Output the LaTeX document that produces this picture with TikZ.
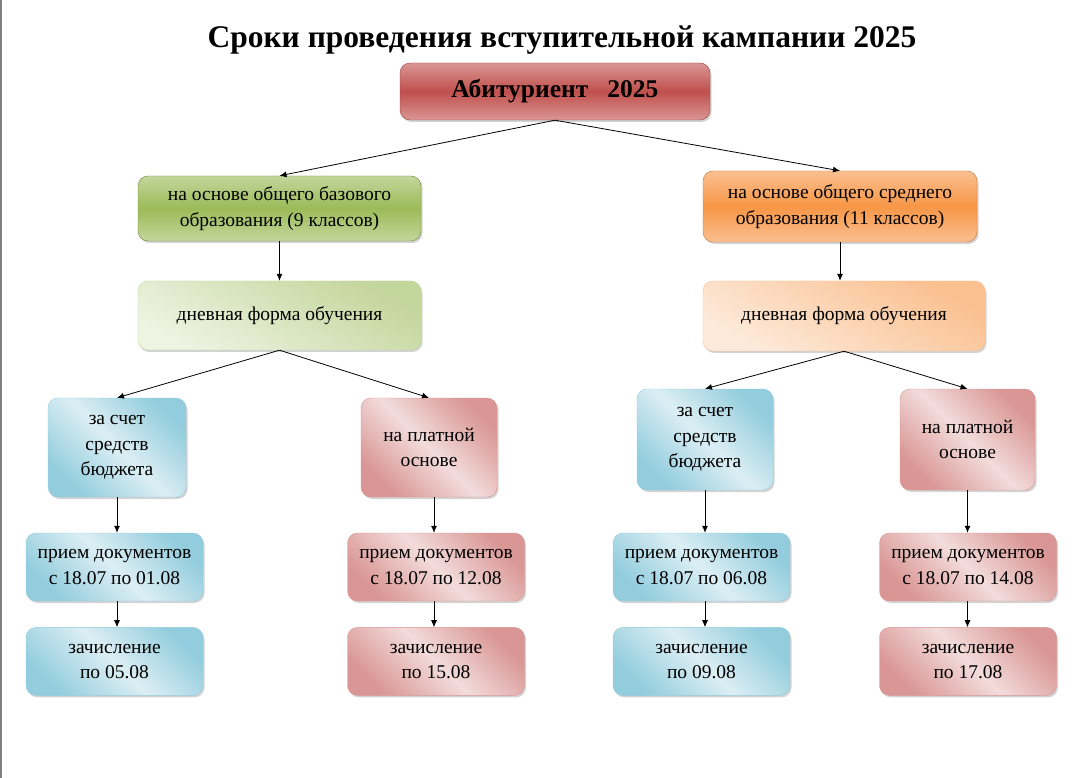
\documentclass[tikz,border=0pt]{standalone}
\usepackage{fontspec}
\setmainfont{Liberation Serif}
\usepackage{tikz}
\usetikzlibrary{positioning, arrows.meta, shadows}

\definecolor{redD}{HTML}{C0504D}
\definecolor{redL}{HTML}{DA9694}
\definecolor{grnD}{HTML}{9BBB59}
\definecolor{grnL}{HTML}{C3D69B}
\definecolor{grnW}{HTML}{EEF3E2}
\definecolor{orgD}{HTML}{F79646}
\definecolor{orgL}{HTML}{FAC090}
\definecolor{orgW}{HTML}{FDEADA}
\definecolor{bluD}{HTML}{93CDDD}
\definecolor{bluW}{HTML}{DCEEF4}
\definecolor{pnkD}{HTML}{D99694}
\definecolor{pnkW}{HTML}{F2DCDB}

\begin{document}
\begin{tikzpicture}
[
x=1pt, y=-1pt,
font=\fontsize{19.5}{25.5}\selectfont,
node distance = 26pt,
box/.style={rectangle, rounded corners=10pt, align=center, inner sep=1pt,
  drop shadow={shadow xshift=1.5pt, shadow yshift=-2pt, opacity=0.35, fill=gray}},
std1/.style={box, draw=redD!80!black, top color=redL, bottom color=redL, middle color=redD,
  minimum width=310pt, minimum height=57pt},
std2/.style={box, draw=grnD!70!black, top color=grnL, bottom color=grnL, middle color=grnD},
std3/.style={box, draw=orgD!80!black, top color=orgL, bottom color=orgL, middle color=orgD},
form1/.style={box, draw=grnL, top color=grnL, bottom color=grnW, shading angle=-30},
form2/.style={box, draw=orgL, top color=orgL, bottom color=orgW, shading angle=-30},
fin1/.style={box, draw=bluD, top color=bluD, bottom color=bluD, middle color=bluW, shading angle=-45,
  minimum width=177pt, minimum height=68pt},
fin2/.style={box, draw=pnkD, top color=pnkD, bottom color=pnkD, middle color=pnkW, shading angle=-45,
  minimum width=177pt, minimum height=68pt},
arr/.style={-{Latex[length=7pt, width=6pt]}, black, line width=0.8pt},
]
\path[use as bounding box] (0,0) rectangle (1088,778);
\draw[gray, line width=1.5pt] (0.75,0) -- (0.75,778);

% title
\node[font=\fontsize{31.5}{34}\selectfont\bfseries] (title) at (562,40) {Сроки проведения вступительной кампании 2025};
\node [std1, font=\fontsize{25.5}{28}\selectfont\bfseries] (abit) at (555,91.5) {Абитуриент\ \ \ 2025};

% level of education
\node [std2, minimum width=283pt, minimum height=65pt] (base9) at (279.5,208.5) {на основе общего базового\\образования (9 классов)};
\node [std3, minimum width=274pt, minimum height=71pt] (base11) at (840,206.5) {на основе общего среднего\\образования (11 классов)};

\node [form1, minimum width=283pt, minimum height=69pt] (day9) at (279.5,315.5) {дневная форма обучения};
\node [form2, minimum width=282pt, minimum height=70pt] (day11) at (844,316) {дневная форма обучения};

% budget / paid
\node [fin1, minimum width=138pt, minimum height=99pt] (bud9) at (117,447.5) {за счет\\средств\\бюджета};
\node [fin2, minimum width=136pt, minimum height=99pt] (pay9) at (429,447.5) {на платной\\основе};
\node [fin1, minimum width=136pt, minimum height=101pt] (bud11) at (705,439.5) {за счет\\средств\\бюджета};
\node [fin2, minimum width=135pt, minimum height=101pt] (pay11) at (967.5,439.5) {на платной\\основе};

% documents
\node [fin1] (doc1) at (114.5,567) {прием документов\\с 18.07 по 01.08};
\node [fin2] (doc2) at (436,567) {прием документов\\с 18.07 по 12.08};
\node [fin1] (doc3) at (701.5,567) {прием документов\\с 18.07 по 06.08};
\node [fin2] (doc4) at (968,567) {прием документов\\с 18.07 по 14.08};

% enrolment
\node [fin1, below = of doc1] (enr1) {зачисление\\по 05.08};
\node [fin2, below = of doc2] (enr2) {зачисление\\по 15.08};
\node [fin1, below = of doc3] (enr3) {зачисление\\по 09.08};
\node [fin2, below = of doc4] (enr4) {зачисление\\по 17.08};

\draw [arr] (abit.south) -- (base9.north);
\draw [arr] (abit.south) -- (base11.north);
\draw [arr] (base9) -- (day9);
\draw [arr] (base11) -- (base11 |- day11.north);
\draw [arr] (day9.south) -- (bud9.north);
\draw [arr] (day9.south) -- (pay9.north);
\draw [arr] (day11.south) -- (bud11.north);
\draw [arr] (day11.south) -- (pay11.north);

\draw [arr] (bud9) -- (bud9 |- doc1.north);
\draw [arr] (pay9.south -| 434,0) -- (434,0 |- doc2.north);
\draw [arr] (bud11) -- (bud11 |- doc3.north);
\draw [arr] (pay11) -- (pay11 |- doc4.north);

\draw [arr] (bud9 |- doc1.south) -- (bud9 |- enr1.north);
\draw [arr] (434,0 |- doc2.south) -- (434,0 |- enr2.north);
\draw [arr] (doc3.south -| bud11) -- (enr3.north -| bud11);
\draw [arr] (doc4.south -| pay11) -- (enr4.north -| pay11);
\end{tikzpicture}
\end{document}
